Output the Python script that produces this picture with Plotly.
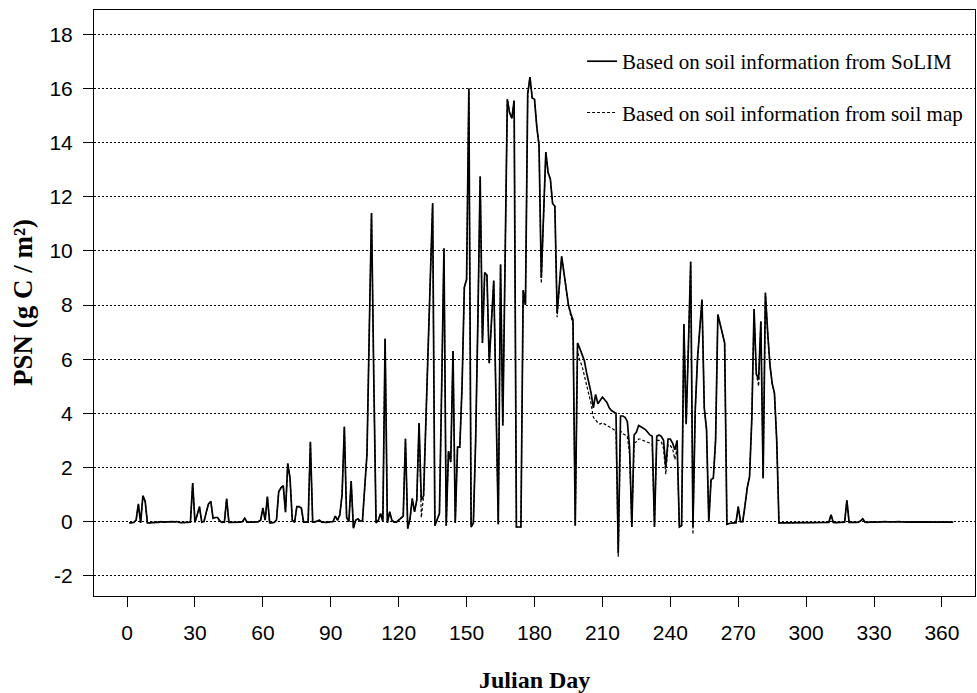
import plotly.graph_objects as go

days = list(range(1, 366))

psn_solim = [
    -0.05, -0.05, -0.03, 0.05, 0.65, -0.05, 0.95, 0.75, -0.05, -0.05,
    -0.03, -0.04, -0.02, -0.03, 0.0, -0.02, -0.01, 0.0, 0.01, 0.0,
    -0.01, 0.0, -0.03, -0.04, -0.04, -0.03, -0.03, -0.02, 1.42, -0.03,
    0.25, 0.55, -0.02, 0.0, 0.35, 0.65, 0.75, 0.12, 0.15, 0.15,
    0.02, -0.03, -0.02, 0.84, -0.03, -0.03, -0.03, -0.02, -0.03, -0.02,
    0.0, 0.12, -0.02, -0.03, -0.02, -0.02, -0.02, 0.0, 0.05, 0.5,
    0.05, 0.92, -0.05, -0.03, -0.03, 0.05, 1.1, 1.25, 1.33, 0.35,
    2.15, 1.6, 0.05, -0.03, 0.55, 0.55, 0.5, -0.02, -0.03, -0.02,
    2.95, -0.02, -0.01, 0.02, 0.05, -0.02, -0.03, -0.03, -0.02, -0.02,
    0.0, 0.2, 0.05, 0.25, 1.0, 3.5, 0.15, 0.0, 1.5, -0.25,
    0.05, 0.1, 0.02, 0.03, 1.3, 2.5, 7.0, 11.4, 5.3, -0.05,
    0.05, 0.3, 0.0, 6.75, -0.05, 0.36, 0.05, -0.02, -0.02, 0.05,
    0.15, 0.2, 3.06, -0.26, 0.1, 0.85, 0.36, 0.8, 3.64, 0.8,
    0.95, 3.6, 6.3, 9.0, 11.76, -0.15, 0.05, 0.3, 5.0, 10.1,
    -0.15, 2.6, 2.2, 6.3, -0.05, 2.75, 2.75, 5.0, 8.65, 8.95,
    16.0, -0.2, -0.05, 3.0, 7.5, 12.75, 6.6, 9.2, 9.1, 5.85,
    7.4, 8.9, 4.4, -0.1, 9.5, 3.55, 9.6, 15.6, 15.1, 14.9,
    15.55, -0.2, -0.2, -0.2, 8.55, 8.0, 15.8, 16.42, 15.65, 15.6,
    14.6, 13.9, 9.0, 11.3, 13.65, 12.9, 12.65, 11.75, 11.65, 7.7,
    8.7, 9.8, 9.2, 8.5, 8.0, 7.7, 7.45, -0.15, 6.6, 6.4,
    6.2, 5.95, 5.5, 5.1, 4.75, 4.2, 4.7, 4.35, 4.5, 4.6,
    4.5, 4.4, 4.2, 4.1, 4.05, 4.0, -1.15, 3.9, 3.9, 3.85,
    3.7, 2.75, -0.2, 3.2, 3.3, 3.55, 3.5, 3.45, 3.4, 3.3,
    3.2, 3.15, -0.2, 3.15, 3.2, 3.15, 3.0, 2.0, 3.05, 3.05,
    2.9, 2.65, 3.0, -0.2, -0.15, 7.3, 3.6, 6.5, 9.6, -0.2,
    4.1, 6.0, 7.2, 8.2, 4.2, 3.4, 0.0, 1.55, 1.6, 3.0,
    7.65, 7.35, 6.95, 6.6, -0.1, -0.07, -0.05, -0.05, -0.05, 0.55,
    0.0, 0.0, 0.6, 1.25, 1.65, 3.8, 7.85, 5.45, 5.25, 7.4,
    1.6, 8.45, 7.0, 5.8, 5.1, 4.75, 3.0, -0.05, -0.05, -0.05,
    -0.05, -0.04, -0.05, -0.05, -0.04, -0.05, -0.05, -0.04, -0.05, -0.04,
    -0.05, -0.04, -0.04, -0.05, -0.04, -0.04, -0.05, -0.04, -0.03, -0.03,
    0.25, -0.03, -0.04, -0.04, -0.03, -0.03, -0.02, 0.78, -0.03, -0.03,
    -0.04, -0.03, -0.02, 0.02, 0.1, -0.02, -0.03, -0.02, -0.02, -0.01,
    -0.02, -0.01, -0.02, -0.01, 0.0, -0.01, -0.02, -0.01, -0.01, 0.0,
    0.0, -0.01, -0.02, -0.03, -0.02, -0.01, -0.01, -0.02, -0.03, -0.02,
    -0.01, -0.01, -0.02, -0.03, -0.03, -0.02, -0.01, -0.01, -0.02, -0.02,
    -0.02, -0.01, -0.01, -0.02, -0.02,
]

psn_soilmap = [
    -0.05, -0.05, -0.03, 0.05, 0.65, -0.05, 0.95, 0.75, -0.05, -0.05,
    -0.03, -0.04, -0.02, -0.03, 0.0, -0.02, -0.01, 0.0, 0.01, 0.0,
    -0.01, 0.0, -0.03, -0.04, -0.04, -0.03, -0.03, -0.02, 1.42, -0.03,
    0.25, 0.55, -0.02, 0.0, 0.35, 0.65, 0.75, 0.12, 0.15, 0.15,
    0.02, -0.03, -0.02, 0.84, -0.03, -0.03, -0.03, -0.02, -0.03, -0.02,
    0.0, 0.12, -0.02, -0.03, -0.02, -0.02, -0.02, 0.0, 0.05, 0.5,
    0.05, 0.92, -0.05, -0.03, -0.03, 0.05, 1.1, 1.25, 1.33, 0.35,
    2.15, 1.6, 0.05, -0.03, 0.55, 0.55, 0.5, -0.02, -0.03, -0.02,
    2.95, -0.02, -0.01, 0.02, 0.05, -0.02, -0.03, -0.03, -0.02, -0.02,
    0.0, 0.2, 0.05, 0.25, 1.0, 3.5, 0.15, 0.0, 1.5, -0.25,
    0.05, 0.1, 0.02, 0.03, 1.3, 2.5, 7.0, 11.4, 5.3, -0.05,
    0.05, 0.3, 0.0, 6.75, -0.05, 0.36, 0.05, -0.02, -0.02, 0.05,
    0.15, 0.2, 3.06, -0.26, 0.1, 0.85, 0.36, 0.8, 3.64, 0.15,
    0.95, 3.6, 6.3, 9.0, 11.76, -0.15, 0.05, 0.3, 5.0, 10.1,
    -0.15, 2.6, 2.2, 6.3, -0.05, 2.75, 2.75, 5.0, 8.65, 8.95,
    16.0, -0.2, -0.05, 3.0, 7.5, 12.75, 6.6, 9.2, 9.1, 5.85,
    7.4, 8.9, 4.4, -0.1, 9.5, 3.55, 9.6, 15.6, 15.1, 14.9,
    15.55, -0.2, -0.2, -0.2, 8.55, 8.0, 15.8, 16.42, 15.65, 15.6,
    14.6, 13.9, 8.8, 11.3, 13.65, 12.9, 12.65, 11.75, 11.65, 7.55,
    8.7, 9.8, 9.2, 8.5, 8.0, 7.6, 7.3, -0.15, 6.3, 5.95,
    5.75, 5.4, 5.0, 4.7, 4.35, 3.85, 3.75, 3.65, 3.6, 3.65,
    3.6, 3.55, 3.5, 3.45, 3.4, 3.35, -1.3, 3.35, 3.25, 3.2,
    3.15, 2.5, -0.2, 2.9, 2.95, 3.05, 3.05, 3.0, 2.95, 2.93,
    2.9, 2.85, -0.2, 3.0, 3.0, 2.95, 2.7, 1.75, 2.85, 2.8,
    2.7, 2.3, 2.7, -0.2, -0.15, 7.3, 3.6, 6.5, 9.6, -0.47,
    4.1, 6.0, 7.2, 8.2, 4.2, 3.4, 0.0, 1.55, 1.6, 3.0,
    7.65, 7.35, 6.95, 6.6, -0.1, -0.07, -0.05, -0.05, -0.05, 0.55,
    0.0, 0.0, 0.6, 1.25, 1.65, 3.8, 7.85, 5.45, 5.0, 7.4,
    1.6, 8.45, 7.0, 5.8, 5.1, 4.75, 3.0, -0.05, -0.05, -0.05,
    -0.05, -0.04, -0.05, -0.05, -0.04, -0.05, -0.05, -0.04, -0.05, -0.04,
    -0.05, -0.04, -0.04, -0.05, -0.04, -0.04, -0.05, -0.04, -0.03, -0.03,
    0.25, -0.03, -0.04, -0.04, -0.03, -0.03, -0.02, 0.78, -0.03, -0.03,
    -0.04, -0.03, -0.02, 0.02, 0.1, -0.02, -0.03, -0.02, -0.02, -0.01,
    -0.02, -0.01, -0.02, -0.01, 0.0, -0.01, -0.02, -0.01, -0.01, 0.0,
    0.0, -0.01, -0.02, -0.03, -0.02, -0.01, -0.01, -0.02, -0.03, -0.02,
    -0.01, -0.01, -0.02, -0.03, -0.03, -0.02, -0.01, -0.01, -0.02, -0.02,
    -0.02, -0.01, -0.01, -0.02, -0.02,
]

x_ticks = [0, 30, 60, 90, 120, 150, 180, 210, 240, 270, 300, 330, 360]
y_ticks = [-2, 0, 2, 4, 6, 8, 10, 12, 14, 16, 18]
y_tick_labels = ["-2", "0", "2", "4", "6", "8", "10", "12", "14", "16", "18"]

series_names = ["Based on soil information from SoLIM",
                "Based on soil information from soil map"]

SANS = "Liberation Sans, Arial, sans-serif"
SERIF = "Liberation Serif, Times New Roman, serif"

fig = go.Figure()
fig.add_trace(go.Scatter(
    x=days, y=psn_soilmap, mode="lines", name=series_names[1],
    line=dict(color="black", width=1.2, dash="3px,2px"), legendrank=2,
    legendgroup="b",
))
fig.add_trace(go.Scatter(
    x=days, y=psn_solim, mode="lines", name=series_names[0],
    line=dict(color="black", width=1.7), legendrank=1,
    legendgroup="a",
))

fig.update_layout(
    width=977, height=693,
    margin=dict(l=94, r=2, t=10, b=97),
    paper_bgcolor="white", plot_bgcolor="white",
    showlegend=True,
    legend=dict(
        x=0.554, xanchor="left", y=0.947, yanchor="top",
        bgcolor="rgba(0,0,0,0)", borderwidth=0,
        font=dict(family=SERIF, size=21, color="black"),
        tracegroupgap=21, traceorder="grouped",
    ),
    xaxis=dict(
        range=[-14.6, 374.6], tickmode="array", tickvals=x_ticks,
        ticks="outside", ticklen=10, tickwidth=1, tickcolor="black",
        showline=True, linecolor="black", linewidth=1, mirror=True,
        showgrid=False, zeroline=False,
        tickfont=dict(family=SANS, size=21, color="black"),
        ticklabelstandoff=8,
    ),
    yaxis=dict(
        range=[-2.75, 18.9], tickmode="array", tickvals=y_ticks, ticktext=y_tick_labels,
        ticks="outside", ticklen=10, tickwidth=1, tickcolor="black",
        showline=True, linecolor="black", linewidth=1, mirror=True,
        showgrid=True, gridcolor="black", gridwidth=1, griddash="2px,2px",
        zeroline=False,
        tickfont=dict(family=SANS, size=21, color="black"),
        ticklabelstandoff=6,
    ),
    annotations=[
        dict(text="<b>PSN (g C / m²)</b>", xref="paper", yref="paper",
             x=0, y=0.5, xshift=-71, xanchor="center", yanchor="middle",
             textangle=-90, showarrow=False,
             font=dict(family=SERIF, size=27, color="black")),
        dict(text="<b>Julian Day</b>", xref="paper", yref="paper",
             x=0.5, y=0, yshift=-84, xanchor="center", yanchor="middle",
             showarrow=False,
             font=dict(family=SERIF, size=24, color="black")),
    ],
)

fig.write_html("out.html")
